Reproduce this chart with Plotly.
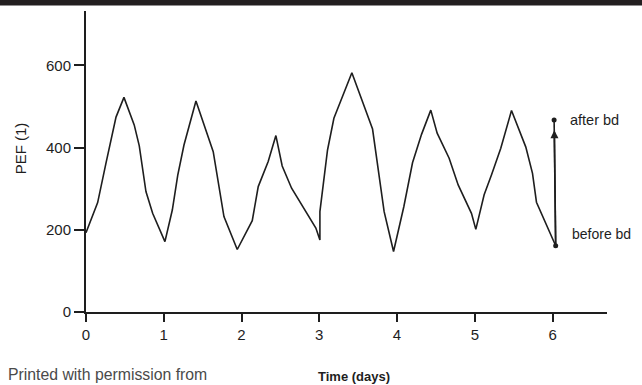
import plotly.graph_objects as go

# PEF readings over time (days)
days = [0.0, 0.15, 0.257, 0.386, 0.488, 0.62, 0.685, 0.771, 0.857, 1.015,
        1.11, 1.18, 1.26, 1.414, 1.636, 1.774, 1.945, 2.138, 2.215, 2.343,
        2.442, 2.523, 2.644, 2.956, 3.008, 3.008, 3.106, 3.188, 3.419, 3.595,
        3.685, 3.834, 3.955, 4.087, 4.199, 4.315, 4.434, 4.516, 4.67, 4.786,
        4.957, 5.013, 5.12, 5.214, 5.334, 5.472, 5.656, 5.742, 5.793, 6.04]
pef = [193, 266, 362, 474, 522, 455, 404, 293, 240, 171,
       248, 333, 406, 513, 390, 232, 152, 222, 305, 366,
       429, 355, 301, 204, 175, 244, 394, 471, 582, 493,
       445, 244, 147, 256, 363, 432, 491, 435, 374, 309,
       240, 201, 285, 333, 398, 490, 401, 337, 267, 161]

# bronchodilator response
bd_x = [6.04, 6.02]
bd_y = [161, 467]
bd_labels = ["before bd", "after bd"]

y_ticks = [0, 200, 400, 600]
x_ticks = [0, 1, 2, 3, 4, 5, 6]

ink = "#1e1e1e"
font_family = "Liberation Sans, Arial, sans-serif"

fig = go.Figure()
fig.add_trace(go.Scatter(x=days, y=pef, mode="lines",
                         line=dict(color=ink, width=1.6), hoverinfo="skip"))
fig.add_trace(go.Scatter(x=bd_x, y=bd_y, mode="lines+markers",
                         line=dict(color=ink, width=1.6),
                         marker=dict(color=ink, size=5), hoverinfo="skip"))

# arrowhead
fig.add_annotation(x=bd_x[1] + 0.003, y=bd_y[1] - 25, ax=bd_x[0], ay=bd_y[0],
                   xref="x", yref="y", axref="x", ayref="y",
                   showarrow=True, arrowhead=2, arrowsize=1, arrowwidth=1.6,
                   arrowcolor=ink, text="")

# labels
fig.add_annotation(x=6.2, y=bd_y[1], text=bd_labels[1], showarrow=False,
                   xanchor="left", yanchor="middle",
                   font=dict(family=font_family, size=14.5, color=ink))
fig.add_annotation(x=6.23, y=190, text=bd_labels[0], showarrow=False,
                   xanchor="left", yanchor="middle",
                   font=dict(family=font_family, size=14, color=ink))

# y axis title
fig.add_annotation(x=-0.124, xref="paper", y=399, yref="y", text="PEF (1)",
                   textangle=-90, showarrow=False, xanchor="center", yanchor="middle",
                   font=dict(family=font_family, size=15, color=ink))

# x axis title
fig.add_annotation(x=3.44, xref="x", y=-0.213, yref="paper", text="<b>Time (days)</b>",
                   showarrow=False, xanchor="center", yanchor="middle",
                   font=dict(family=font_family, size=13, color=ink))

# footnote
fig.add_annotation(x=-0.153, xref="paper", y=-0.206, yref="paper",
                   text="Printed with permission from", showarrow=False,
                   xanchor="left", yanchor="middle",
                   font=dict(family=font_family, size=15.8, color="#4a4a4a"))

# top dark band
fig.add_shape(type="rect", xref="paper", yref="paper", x0=-0.5, x1=1.5,
              y0=1 + 5.5 / 301, y1=1.2, line=dict(width=0), fillcolor="#231f20")

fig.update_xaxes(range=[0, 6.7], tickvals=x_ticks, ticks="outside", ticklen=8,
                 tickwidth=1.6, tickcolor=ink, showline=True, linecolor=ink,
                 linewidth=1.6, showgrid=False, zeroline=False,
                 tickfont=dict(family=font_family, size=15, color=ink))
fig.update_yaxes(range=[0, 732], tickvals=y_ticks, ticks="outside", ticklen=10,
                 tickwidth=1.6, tickcolor=ink, showline=True, linecolor=ink,
                 linewidth=2, showgrid=False, zeroline=False,
                 tickfont=dict(family=font_family, size=15, color=ink))

fig.update_layout(width=642, height=385, showlegend=False,
                  margin=dict(l=86, r=35, t=11, b=73),
                  plot_bgcolor="white", paper_bgcolor="white")

fig.write_html("out.html", config={"displayModeBar": False},
               post_script="document.body.style.margin='0';document.body.style.overflow='hidden';")
